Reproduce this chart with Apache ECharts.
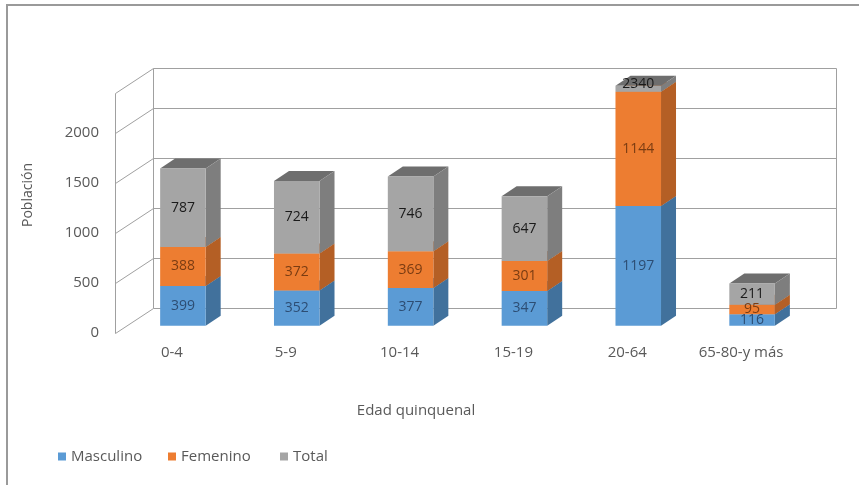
<!DOCTYPE html>
<html>
<head>
<meta charset="utf-8">
<script src="https://cdn.jsdelivr.net/npm/echarts@6/dist/echarts.min.js"></script>
<style>
  html, body { margin: 0; padding: 0; background: #ffffff; }
  #chart { width: 859px; height: 485px; }
</style>
</head>
<body>
<div id="chart"></div>
<script>
// Población por grupo de edad quinquenal
const categories = ['0-4', '5-9', '10-14', '15-19', '20-64', '65-80-y más'];
const masculino = [399, 352, 377, 347, 1197, 116];
const femenino = [388, 372, 369, 301, 1144, 95];
const total = [787, 724, 746, 647, 2340, 211];
const yTicks = [0, 500, 1000, 1500, 2000];
const yMax = 2400;

const FONT = '"Open Sans", Lato, sans-serif';
const TEXT_GREY = '#595959';
const FRAME = '#a0a0a0';

// pseudo-3D geometry, in pixels
const WALL = [38, -25];        // offset of the back wall from the front plane
const BAR_SHIFT = [11, -7.2];  // offset of the bar front face from the front plane
const BAR_DEPTH = [15, -10];   // depth of each bar
const BAR_RATIO = 0.4;         // bar width relative to the category band

const seriesDefs = [
  { name: 'Masculino', values: masculino, front: '#5B9BD5', side: '#41719C', top: '#4A80B2', label: '#2D4D73' },
  { name: 'Femenino',  values: femenino,  front: '#ED7D31', side: '#B45F25', top: '#C46A2B', label: '#7A3C12' },
  { name: 'Total',     values: total,     front: '#A5A5A5', side: '#7E7E7E', top: '#6E6E6E', label: '#1A1A1A' }
];

// stacked bases: each segment starts where the previous series ended
const bases = categories.map(() => 0);
const stacked = seriesDefs.map(def => {
  const rows = def.values.map((v, i) => {
    const row = [i, bases[i], v];
    bases[i] += v;
    return row;
  });
  return rows;
});

function barRenderer(def) {
  return function (params, api) {
    const ci = api.value(0);
    const base = api.value(1);
    const val = api.value(2);
    const lo = Math.min(base, yMax);
    const hi = Math.min(base + val, yMax);
    if (hi <= lo) return;
    const clipped = base + val > yMax;
    const band = api.size([1, 0])[0];
    const w = band * BAR_RATIO;
    const pLo = api.coord([ci, lo]);
    const pHi = api.coord([ci, hi]);
    const x0 = pLo[0] - w / 2 + BAR_SHIFT[0];
    const x1 = x0 + w;
    const yb = pLo[1] + BAR_SHIFT[1];
    const yt = pHi[1] + BAR_SHIFT[1];
    const dx = BAR_DEPTH[0], dy = BAR_DEPTH[1];
    const labelY = clipped ? (yb + yt + dy) / 2 : (yb + yt) / 2;
    return {
      type: 'group',
      children: [
        { type: 'polygon', shape: { points: [[x0, yt], [x1, yt], [x1 + dx, yt + dy], [x0 + dx, yt + dy]] },
          style: { fill: def.top } },
        { type: 'polygon', shape: { points: [[x1, yb], [x1 + dx, yb + dy], [x1 + dx, yt + dy], [x1, yt]] },
          style: { fill: def.side } },
        { type: 'rect', shape: { x: x0, y: yt, width: w, height: yb - yt },
          style: { fill: def.front } },
        { type: 'text', x: (x0 + x1) / 2, y: labelY, z2: 100,
          style: { text: String(val), fill: def.label, font: '14px ' + FONT, align: 'center', verticalAlign: 'middle' } }
      ]
    };
  };
}

function frameRenderer(params, api) {
  const cs = params.coordSys;
  const L = cs.x, R = cs.x + cs.width;
  const crisp = v => Math.round(v) + 0.5;
  const lines = [];
  const line = (a, b) => lines.push({
    type: 'line',
    shape: { x1: crisp(a[0]), y1: crisp(a[1]), x2: crisp(b[0]), y2: crisp(b[1]) },
    style: { stroke: FRAME, lineWidth: 1 }
  });
  const levels = yTicks.concat([yMax]);
  levels.forEach(v => {
    const y = api.coord([0, v])[1];
    line([L + WALL[0], y + WALL[1]], [R + WALL[0], y + WALL[1]]);
    line([L, y], [L + WALL[0], y + WALL[1]]);
  });
  const y0 = api.coord([0, 0])[1];
  const yT = api.coord([0, yMax])[1];
  line([L, y0], [L, yT]);
  line([L + WALL[0], y0 + WALL[1]], [L + WALL[0], yT + WALL[1]]);
  line([R + WALL[0], y0 + WALL[1]], [R + WALL[0], yT + WALL[1]]);
  return { type: 'group', children: lines };
}

const chart = echarts.init(document.getElementById('chart'), null, { renderer: 'canvas' });

const series = [{
  type: 'custom',
  name: 'frame',
  silent: true,
  z: 1,
  renderItem: frameRenderer,
  data: [[0, 0]]
}].concat(seriesDefs.map((def, k) => ({
  type: 'custom',
  name: def.name,
  z: 2,
  itemStyle: { color: def.front },
  renderItem: barRenderer(def),
  encode: { x: 0, y: [1, 2] },
  data: stacked[k]
})));

const legendAt = (name, left) => ({
  data: [name],
  left: left,
  top: 444,
  icon: 'rect',
  itemWidth: 8,
  itemHeight: 8,
  selectedMode: false,
  textStyle: { color: TEXT_GREY, fontSize: 15, fontFamily: FONT }
});

chart.setOption({
  animation: false,
  backgroundColor: '#ffffff',
  grid: { left: 115, right: 61, top: 93, bottom: 152 },
  xAxis: {
    type: 'category',
    data: categories,
    axisLine: { show: false },
    axisTick: { show: false },
    splitLine: { show: false },
    axisLabel: { color: TEXT_GREY, fontSize: 15, fontFamily: FONT, margin: 12 }
  },
  yAxis: {
    type: 'value',
    min: 0,
    max: yMax,
    interval: 500,
    axisLine: { show: false },
    axisTick: { show: false },
    splitLine: { show: false },
    axisLabel: { color: TEXT_GREY, fontSize: 15, fontFamily: FONT, margin: 16,
                 customValues: yTicks, formatter: v => String(v) }
  },
  legend: [legendAt('Masculino', 53), legendAt('Femenino', 163), legendAt('Total', 275)],
  graphic: [
    { type: 'polyline', silent: true,
      shape: { points: [[7, 485], [7, 5], [859, 5]] },
      style: { stroke: '#9a9a9a', lineWidth: 2, fill: null } },
    { type: 'text', x: 28, y: 195, rotation: Math.PI / 2, silent: true,
      style: { text: 'Población', fill: TEXT_GREY, font: '14px ' + FONT, align: 'center', verticalAlign: 'middle' } },
    { type: 'text', x: 416, y: 411, silent: true,
      style: { text: 'Edad quinquenal', fill: TEXT_GREY, font: '15px ' + FONT, align: 'center', verticalAlign: 'middle' } }
  ],
  series: series
});
</script>
</body>
</html>
